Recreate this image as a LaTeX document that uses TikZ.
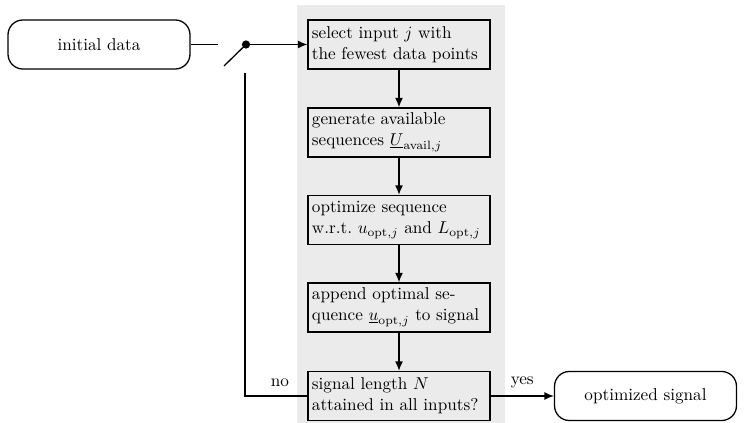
\documentclass[tikz,border=0pt]{standalone}
\usetikzlibrary{arrows.meta}
\definecolor{bggray}{HTML}{EBEBEB}
\begin{document}
\begin{tikzpicture}[x=0.583pt,y=-0.583pt,
  stepbox/.style={draw, line width=0.75pt, fill=bggray, minimum width=106.1pt, minimum height=28.6pt,
    text width=101.5pt, align=left, inner sep=2pt, font=\normalsize},
  term/.style={draw, line width=0.75pt, fill=white, rounded corners=8.7pt, minimum width=106.1pt, minimum height=28.6pt},
  conn/.style={line width=0.75pt},
  arr/.style={line width=0.75pt, -{Latex[length=5.5pt,width=4.6pt]}}]
\useasboundingbox (0,0) rectangle (750,423);
\fill[bggray] (297,5) rectangle (505,423);
\node[term] (init) at (99,44.5) {initial data};
\node[stepbox] (s1) at (399,44.5) {select input $j$ with\\the fewest data points};
\node[stepbox] (s2) at (399,132.5) {generate available\\sequences $\underline{U}_{\mathrm{avail},j}$};
\node[stepbox] (s3) at (399,220) {optimize sequence\\w.r.t.\ $u_{\mathrm{opt},j}$ and $L_{\mathrm{opt},j}$};
\node[stepbox] (s4) at (399,307.5) {append optimal se-\\quence $\underline{u}_{\mathrm{opt},j}$ to signal};
\node[stepbox] (s5) at (399,396) {signal length $N$\\attained in all inputs?};
\node[term] (out) at (645.5,396) {optimized signal};
\coordinate (a) at (218,44.5);
\coordinate (b) at (224,66);
\coordinate (c) at (246,44.5);
\coordinate (d) at (245,73);
\coordinate (e) at (245,396);
\draw[conn] (init.east) -- (a);
\draw[conn] (b) -- (c);
\fill (c) circle (2.4pt);
\draw[arr] (c) -- (s1.west);
\draw[arr] (s1) -- (s2);
\draw[arr] (s2) -- (s3);
\draw[arr] (s3) -- (s4);
\draw[arr] (s4) -- (s5);
\draw[conn] (s5.west) -- (e) -- (d);
\node at (280,383) {no};
\draw[arr] (s5.east) -- node[above=1pt] {yes} (out.west);
\end{tikzpicture}
\end{document}
